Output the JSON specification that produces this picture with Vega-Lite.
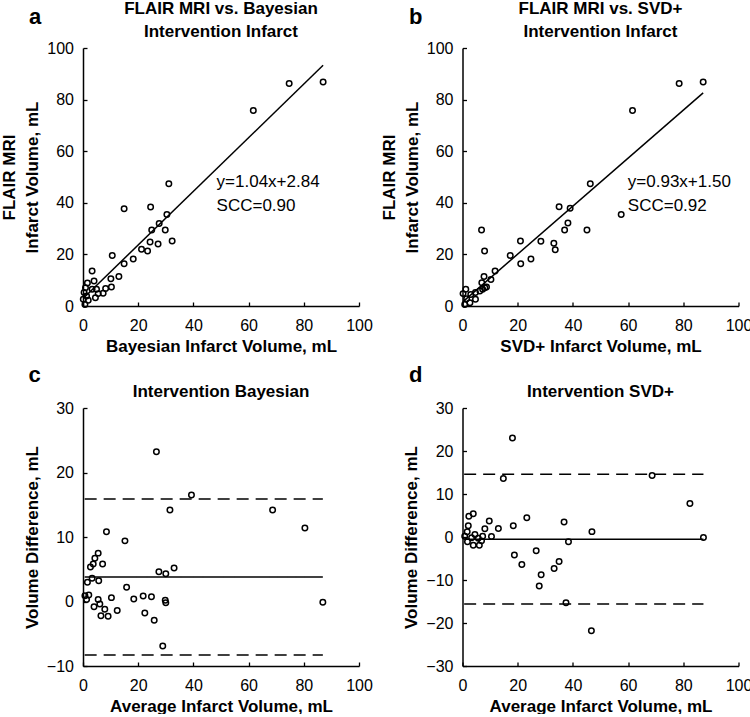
{
  "$schema": "https://vega.github.io/schema/vega-lite/v6.json",
  "background": "white",
  "padding": {"left": 0, "top": 0, "right": 0, "bottom": 0},
  "columns": 2,
  "spacing": {"row": 102, "column": 103.5},
  "bounds": "flush",
  "datasets": {
    "a_pts": [
      {"x": 87.0, "y": 86.8}, {"x": 74.7, "y": 86.2}, {"x": 61.7, "y": 75.8}, {"x": 31.1, "y": 47.4},
      {"x": 14.9, "y": 37.7}, {"x": 24.5, "y": 38.4}, {"x": 30.4, "y": 35.5}, {"x": 27.6, "y": 32.0},
      {"x": 24.9, "y": 29.5}, {"x": 29.8, "y": 29.5}, {"x": 32.3, "y": 25.2}, {"x": 24.3, "y": 24.8},
      {"x": 27.2, "y": 24.0}, {"x": 21.2, "y": 22.0}, {"x": 23.4, "y": 21.3}, {"x": 18.2, "y": 18.2},
      {"x": 14.9, "y": 16.4}, {"x": 10.6, "y": 19.6}, {"x": 13.0, "y": 11.4}, {"x": 10.1, "y": 10.6},
      {"x": 10.3, "y": 7.4}, {"x": 8.2, "y": 6.8}, {"x": 3.3, "y": 13.6}, {"x": 4.0, "y": 9.7},
      {"x": 1.6, "y": 8.9}, {"x": 4.9, "y": 6.5}, {"x": 7.3, "y": 4.9}, {"x": 5.5, "y": 4.8},
      {"x": 4.5, "y": 3.2}, {"x": 0.9, "y": 7.1}, {"x": 0.4, "y": 5.2}, {"x": 1.3, "y": 3.9},
      {"x": 0.1, "y": 2.6}, {"x": 1.9, "y": 2.2}, {"x": 0.7, "y": 0.6}, {"x": 3.3, "y": 6.5}
    ],
    "a_fit": [{"x": 0.5, "y": 3.4}, {"x": 87.0, "y": 93.3}],
    "a_txt": [{"x": 48.4, "y": 46.1, "label": "y=1.04x+2.84"}, {"x": 48.4, "y": 36.8, "label": "SCC=0.90"}],
    "b_pts": [
      {"x": 87.2, "y": 86.8}, {"x": 78.5, "y": 86.2}, {"x": 61.6, "y": 75.8}, {"x": 46.3, "y": 47.4},
      {"x": 35.0, "y": 38.5}, {"x": 39.0, "y": 37.9}, {"x": 57.5, "y": 35.5}, {"x": 38.2, "y": 32.2},
      {"x": 37.0, "y": 29.5}, {"x": 45.1, "y": 29.5}, {"x": 6.9, "y": 29.5}, {"x": 28.4, "y": 25.1},
      {"x": 21.0, "y": 25.2}, {"x": 33.1, "y": 24.3}, {"x": 33.6, "y": 21.8}, {"x": 8.0, "y": 21.3},
      {"x": 17.3, "y": 19.6}, {"x": 24.8, "y": 18.2}, {"x": 21.1, "y": 16.4}, {"x": 11.8, "y": 13.6},
      {"x": 7.8, "y": 11.4}, {"x": 10.3, "y": 10.3}, {"x": 7.0, "y": 9.0}, {"x": 8.7, "y": 7.4},
      {"x": 7.3, "y": 6.5}, {"x": 6.3, "y": 5.8}, {"x": 4.7, "y": 5.2}, {"x": 1.2, "y": 6.5},
      {"x": 0.2, "y": 4.8}, {"x": 3.0, "y": 4.5}, {"x": 4.7, "y": 2.6}, {"x": 1.5, "y": 2.8},
      {"x": 2.7, "y": 1.3}, {"x": 0.8, "y": 0.6}, {"x": 8.1, "y": 7.1}
    ],
    "b_fit": [{"x": 0.2, "y": 1.7}, {"x": 87.2, "y": 82.6}],
    "b_txt": [{"x": 59.9, "y": 46.1, "label": "y=0.93x+1.50"}, {"x": 59.9, "y": 36.8, "label": "SCC=0.92"}],
    "c_pts": [
      {"x": 26.6, "y": 23.2}, {"x": 39.3, "y": 16.5}, {"x": 31.5, "y": 14.2}, {"x": 68.7, "y": 14.2},
      {"x": 80.4, "y": 11.4}, {"x": 8.5, "y": 10.8}, {"x": 15.2, "y": 9.4}, {"x": 5.5, "y": 7.5},
      {"x": 4.3, "y": 6.7}, {"x": 2.7, "y": 5.35}, {"x": 3.7, "y": 5.8}, {"x": 7.1, "y": 5.8},
      {"x": 33.0, "y": 5.2}, {"x": 27.5, "y": 4.6}, {"x": 30.0, "y": 4.3}, {"x": 3.3, "y": 3.6},
      {"x": 1.6, "y": 3.0}, {"x": 5.7, "y": 3.2}, {"x": 15.8, "y": 2.2}, {"x": 0.7, "y": 0.9},
      {"x": 2.1, "y": 1.0}, {"x": 1.3, "y": 0.3}, {"x": 5.5, "y": 0.3}, {"x": 10.3, "y": 0.6},
      {"x": 18.4, "y": 0.4}, {"x": 21.8, "y": 0.85}, {"x": 24.8, "y": 0.75}, {"x": 29.8, "y": 0.2},
      {"x": 30.0, "y": -0.2}, {"x": 86.9, "y": -0.1}, {"x": 4.0, "y": -0.8}, {"x": 6.1, "y": -0.4},
      {"x": 7.9, "y": -1.2}, {"x": 12.4, "y": -1.4}, {"x": 22.4, "y": -1.8}, {"x": 6.5, "y": -2.2},
      {"x": 9.1, "y": -2.3}, {"x": 25.8, "y": -2.9}, {"x": 28.9, "y": -6.9}
    ],
    "c_lines": [
      {"x": 0.6, "x2": 86.9, "y": 3.8, "kind": "mean"},
      {"x": 0.6, "x2": 86.9, "y": 15.9, "kind": "limit"},
      {"x": 0.6, "x2": 86.9, "y": -8.3, "kind": "limit"}
    ],
    "d_pts": [
      {"x": 18.1, "y": 23.0}, {"x": 14.8, "y": 13.6}, {"x": 68.7, "y": 14.3}, {"x": 82.4, "y": 7.8},
      {"x": 2.3, "y": 4.8}, {"x": 3.9, "y": 5.4}, {"x": 23.3, "y": 4.5}, {"x": 9.7, "y": 3.7},
      {"x": 36.8, "y": 3.5}, {"x": 2.1, "y": 2.6}, {"x": 18.4, "y": 2.6}, {"x": 13.0, "y": 2.0},
      {"x": 8.1, "y": 1.9}, {"x": 46.9, "y": 1.25}, {"x": 1.7, "y": 1.2}, {"x": 4.5, "y": 0.6},
      {"x": 0.8, "y": 0.2}, {"x": 10.5, "y": 0.1}, {"x": 7.3, "y": 0.15}, {"x": 5.7, "y": -0.3},
      {"x": 87.3, "y": -0.1}, {"x": 1.8, "y": -1.1}, {"x": 6.9, "y": -0.9}, {"x": 3.9, "y": -1.9},
      {"x": 6.1, "y": -1.9}, {"x": 38.4, "y": -1.1}, {"x": 26.7, "y": -3.2}, {"x": 18.8, "y": -4.2},
      {"x": 35.0, "y": -5.7}, {"x": 21.5, "y": -6.4}, {"x": 33.2, "y": -7.3}, {"x": 28.5, "y": -8.8},
      {"x": 27.8, "y": -11.4}, {"x": 37.5, "y": -15.3}, {"x": 46.7, "y": -21.8}, {"x": 3.3, "y": -0.2}
    ],
    "d_lines": [
      {"x": 0.6, "x2": 87.3, "y": -0.5, "kind": "mean"},
      {"x": 0.6, "x2": 87.3, "y": 14.6, "kind": "limit"},
      {"x": 0.6, "x2": 87.3, "y": -15.6, "kind": "limit"}
    ]
  },
  "concat": [
    {
      "width": 276, "height": 258,
      "title": {"text": ["FLAIR MRI vs. Bayesian", "Intervention Infarct"], "frame": "group", "offset": -36, "lineHeight": 23},
      "resolve": {"axis": {"x": "independent"}},
      "layer": [
        {
          "data": {"name": "a_pts"},
          "mark": {"type": "point", "shape": "circle", "filled": false, "stroke": "black", "strokeWidth": 1.5, "size": 30, "opacity": 1},
          "encoding": {
            "x": {"field": "x", "type": "quantitative", "scale": {"domain": [0, 100], "nice": false}, "axis": {"title": "Bayesian Infarct Volume, mL", "values": [0, 20, 40, 60, 80, 100]}},
            "y": {"field": "y", "type": "quantitative", "scale": {"domain": [0, 100], "nice": false}, "axis": {"title": ["FLAIR MRI", "Infarct Volume, mL"], "values": [0, 20, 40, 60, 80, 100]}}
          }
        },
        {
          "data": {"name": "a_fit"},
          "mark": {"type": "line", "color": "black", "strokeWidth": 1.5},
          "encoding": {
            "x": {"field": "x", "type": "quantitative", "scale": {"domain": [0, 100], "nice": false}, "axis": {"orient": "top", "title": "a", "domain": false, "ticks": false, "labels": false, "titleX": -54.5, "titleY": -25, "titleAlign": "left", "titleBaseline": "alphabetic", "titleAngle": 0, "titleFontSize": 22}},
            "y": {"field": "y", "type": "quantitative", "scale": {"domain": [0, 100], "nice": false}, "axis": {"title": ["FLAIR MRI", "Infarct Volume, mL"], "values": [0, 20, 40, 60, 80, 100]}}
          }
        },
        {
          "data": {"name": "a_txt"},
          "mark": {"type": "text", "align": "left", "baseline": "alphabetic", "fontSize": 17, "font": "Liberation Sans", "color": "black"},
          "encoding": {
            "x": {"field": "x", "type": "quantitative", "scale": {"domain": [0, 100], "nice": false}, "axis": null},
            "y": {"field": "y", "type": "quantitative", "scale": {"domain": [0, 100], "nice": false}, "axis": {"title": ["FLAIR MRI", "Infarct Volume, mL"], "values": [0, 20, 40, 60, 80, 100]}},
            "text": {"field": "label"}
          }
        }
      ]
    },
    {
      "width": 276, "height": 258,
      "title": {"text": ["FLAIR MRI vs. SVD+", "Intervention Infarct"], "frame": "group", "offset": -36, "lineHeight": 23},
      "resolve": {"axis": {"x": "independent"}},
      "layer": [
        {
          "data": {"name": "b_pts"},
          "mark": {"type": "point", "shape": "circle", "filled": false, "stroke": "black", "strokeWidth": 1.5, "size": 30, "opacity": 1},
          "encoding": {
            "x": {"field": "x", "type": "quantitative", "scale": {"domain": [0, 100], "nice": false}, "axis": {"title": "SVD+ Infarct Volume, mL", "values": [0, 20, 40, 60, 80, 100]}},
            "y": {"field": "y", "type": "quantitative", "scale": {"domain": [0, 100], "nice": false}, "axis": {"title": ["FLAIR MRI", "Infarct Volume, mL"], "values": [0, 20, 40, 60, 80, 100]}}
          }
        },
        {
          "data": {"name": "b_fit"},
          "mark": {"type": "line", "color": "black", "strokeWidth": 1.5},
          "encoding": {
            "x": {"field": "x", "type": "quantitative", "scale": {"domain": [0, 100], "nice": false}, "axis": {"orient": "top", "title": "b", "domain": false, "ticks": false, "labels": false, "titleX": -54, "titleY": -25, "titleAlign": "left", "titleBaseline": "alphabetic", "titleAngle": 0, "titleFontSize": 22}},
            "y": {"field": "y", "type": "quantitative", "scale": {"domain": [0, 100], "nice": false}, "axis": {"title": ["FLAIR MRI", "Infarct Volume, mL"], "values": [0, 20, 40, 60, 80, 100]}}
          }
        },
        {
          "data": {"name": "b_txt"},
          "mark": {"type": "text", "align": "left", "baseline": "alphabetic", "fontSize": 17, "font": "Liberation Sans", "color": "black"},
          "encoding": {
            "x": {"field": "x", "type": "quantitative", "scale": {"domain": [0, 100], "nice": false}, "axis": null},
            "y": {"field": "y", "type": "quantitative", "scale": {"domain": [0, 100], "nice": false}, "axis": {"title": ["FLAIR MRI", "Infarct Volume, mL"], "values": [0, 20, 40, 60, 80, 100]}},
            "text": {"field": "label"}
          }
        }
      ]
    },
    {
      "width": 276, "height": 258,
      "title": {"text": "Intervention Bayesian", "frame": "group", "offset": -38, "lineHeight": 23},
      "resolve": {"axis": {"x": "independent"}},
      "layer": [
        {
          "data": {"name": "c_pts"},
          "mark": {"type": "point", "shape": "circle", "filled": false, "stroke": "black", "strokeWidth": 1.5, "size": 30, "opacity": 1},
          "encoding": {
            "x": {"field": "x", "type": "quantitative", "scale": {"domain": [0, 100], "nice": false}, "axis": {"title": "Average Infarct Volume, mL", "values": [0, 20, 40, 60, 80, 100]}},
            "y": {"field": "y", "type": "quantitative", "scale": {"domain": [-10, 30], "nice": false}, "axis": {"title": "Volume Difference, mL", "values": [-10, 0, 10, 20, 30]}}
          }
        },
        {
          "data": {"name": "c_lines"},
          "mark": {"type": "rule", "color": "black", "strokeWidth": 1.5},
          "encoding": {
            "x": {"field": "x", "type": "quantitative", "scale": {"domain": [0, 100], "nice": false}, "axis": {"orient": "top", "title": "c", "domain": false, "ticks": false, "labels": false, "titleX": -55, "titleY": -27, "titleAlign": "left", "titleBaseline": "alphabetic", "titleAngle": 0, "titleFontSize": 22}},
            "x2": {"field": "x2"},
            "y": {"field": "y", "type": "quantitative", "scale": {"domain": [-10, 30], "nice": false}, "axis": {"title": "Volume Difference, mL", "values": [-10, 0, 10, 20, 30]}},
            "strokeDash": {"field": "kind", "type": "nominal", "scale": {"domain": ["mean", "limit"], "range": [[1, 0], [12, 7]]}, "legend": null}
          }
        }
      ]
    },
    {
      "width": 276, "height": 258,
      "title": {"text": "Intervention SVD+", "frame": "group", "offset": -38, "lineHeight": 23},
      "resolve": {"axis": {"x": "independent"}},
      "layer": [
        {
          "data": {"name": "d_pts"},
          "mark": {"type": "point", "shape": "circle", "filled": false, "stroke": "black", "strokeWidth": 1.5, "size": 30, "opacity": 1},
          "encoding": {
            "x": {"field": "x", "type": "quantitative", "scale": {"domain": [0, 100], "nice": false}, "axis": {"title": "Average Infarct Volume, mL", "values": [0, 20, 40, 60, 80, 100]}},
            "y": {"field": "y", "type": "quantitative", "scale": {"domain": [-30, 30], "nice": false}, "axis": {"title": "Volume Difference, mL", "values": [-30, -20, -10, 0, 10, 20, 30]}}
          }
        },
        {
          "data": {"name": "d_lines"},
          "mark": {"type": "rule", "color": "black", "strokeWidth": 1.5},
          "encoding": {
            "x": {"field": "x", "type": "quantitative", "scale": {"domain": [0, 100], "nice": false}, "axis": {"orient": "top", "title": "d", "domain": false, "ticks": false, "labels": false, "titleX": -54, "titleY": -27, "titleAlign": "left", "titleBaseline": "alphabetic", "titleAngle": 0, "titleFontSize": 22}},
            "x2": {"field": "x2"},
            "y": {"field": "y", "type": "quantitative", "scale": {"domain": [-30, 30], "nice": false}, "axis": {"title": "Volume Difference, mL", "values": [-30, -20, -10, 0, 10, 20, 30]}},
            "strokeDash": {"field": "kind", "type": "nominal", "scale": {"domain": ["mean", "limit"], "range": [[1, 0], [12, 7]]}, "legend": null}
          }
        }
      ]
    }
  ],
  "config": {
    "font": "Liberation Sans",
    "view": {"stroke": null},
    "title": {"font": "Liberation Sans", "fontSize": 17, "fontWeight": "bold", "color": "black", "lineHeight": 23},
    "axis": {
      "grid": false,
      "domainColor": "black", "domainWidth": 1.5,
      "tickColor": "black", "tickWidth": 1.3, "tickSize": -4,
      "labelFont": "Liberation Sans", "labelFontSize": 16, "labelColor": "black",
      "labelFlush": false, "labelOverlap": false,
      "titleFont": "Liberation Sans", "titleFontSize": 17, "titleFontWeight": "bold", "titleColor": "black",
      "titleLineHeight": 23
    },
    "axisX": {"labelPadding": 15, "titlePadding": 5},
    "axisY": {"labelPadding": 13.5, "titlePadding": 5}
  }
}
